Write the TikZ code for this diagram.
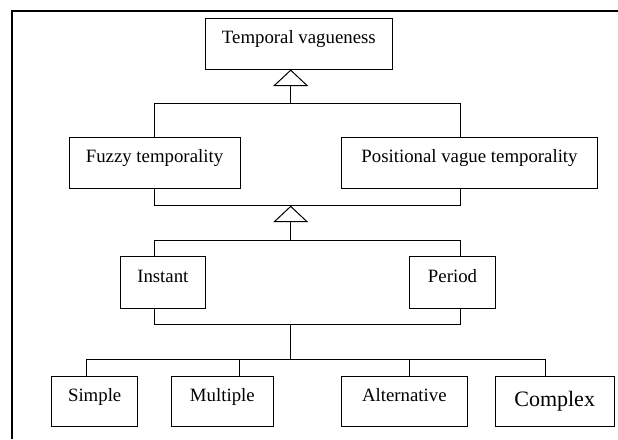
\documentclass[tikz,border=0pt]{standalone}
\usepackage{fontspec}
\setmainfont{Liberation Serif}
\usetikzlibrary{arrows.meta}
\begin{document}
\begin{tikzpicture}[x=1pt,y=-1pt,
  box/.style={draw=black, line width=1pt, fill=white, inner sep=0pt,
    text height=0pt, text depth=0pt, font=\fontsize{18.8}{20}\selectfont},
  wire/.style={draw=black, line width=1pt, line join=miter},
  gen/.style={wire, -{Triangle[open, width=35pt, length=16.5pt, line width=1pt]}},
]
\useasboundingbox (0,0) rectangle (618,439);
\fill[white] (0,0) rectangle (618,439);
\draw[line width=2.2pt] (12.2,439) -- (12.2,11.2) -- (618,11.2);

% boxes
\node[box, minimum width=187.7pt, minimum height=50.7pt] (tv) at (298.85,43.65) {Temporal vagueness};
\node[box, minimum width=171pt, minimum height=51pt] (fuzzy) at (154.5,162.5) {Fuzzy temporality};
\node[box, minimum width=255.6pt, minimum height=51pt] (pos) at (469.5,162.5) {Positional vague temporality};
\node[box, minimum width=85.7pt, minimum height=51.3pt] (inst) at (162.85,282.35) {Instant};
\node[box, minimum width=85.6pt, minimum height=51.3pt] (per) at (452.5,282.35) {Period};
\node[box, minimum width=86pt, minimum height=50.4pt] (simple) at (94.7,401.5) {Simple};
\node[box, minimum width=102.7pt, minimum height=50.4pt] (mult) at (222.35,401.5) {Multiple};
\node[box, minimum width=125.3pt, minimum height=50.4pt] (alt) at (404.35,401.5) {Alternative};
\node[box, minimum width=118.7pt, minimum height=50.4pt, text height=10pt,
  font=\fontsize{22}{24}\selectfont] (cplx) at (554.65,401.5) {Complex};

% guide coordinates
\coordinate (sp) at (290.7,0);
\coordinate (lx) at (154,0);
\coordinate (rx) at (460.7,0);
\coordinate (c1) at (86,0);
\coordinate (c2) at (239.3,0);
\coordinate (c3) at (409.7,0);
\coordinate (c4) at (545.7,0);
\coordinate (b1) at (0,103);
\coordinate (b2) at (0,205.7);
\coordinate (b3) at (0,240);
\coordinate (b4) at (0,324.7);
\coordinate (b5) at (0,359);
\coordinate (j2) at (sp |- b2);

% level 1 generalisation
\draw[gen] (fuzzy.north -| lx) -- (lx |- b1) -- (sp |- b1) -- (tv.south -| sp);
\draw[wire] (pos.north -| rx) |- (sp |- b1);

% level 2 generalisation
\draw[wire] (fuzzy.south -| lx) -- (lx |- b2) -- (rx |- b2) -- (pos.south -| rx);
\draw[gen] (inst.north -| lx) -- (lx |- b3) -- (sp |- b3) -- (j2);
\draw[wire] (per.north -| rx) |- (sp |- b3);

% level 3 tree
\draw[wire] (inst.south -| lx) -- (lx |- b4) -- (rx |- b4) -- (per.south -| rx);
\draw[wire] (sp |- b4) -- (sp |- b5);
\draw[wire] (simple.north -| c1) -- (c1 |- b5) -- (c4 |- b5) -- (cplx.north -| c4);
\draw[wire] (mult.north -| c2) -- (c2 |- b5);
\draw[wire] (alt.north -| c3) -- (c3 |- b5);
\end{tikzpicture}
\end{document}
